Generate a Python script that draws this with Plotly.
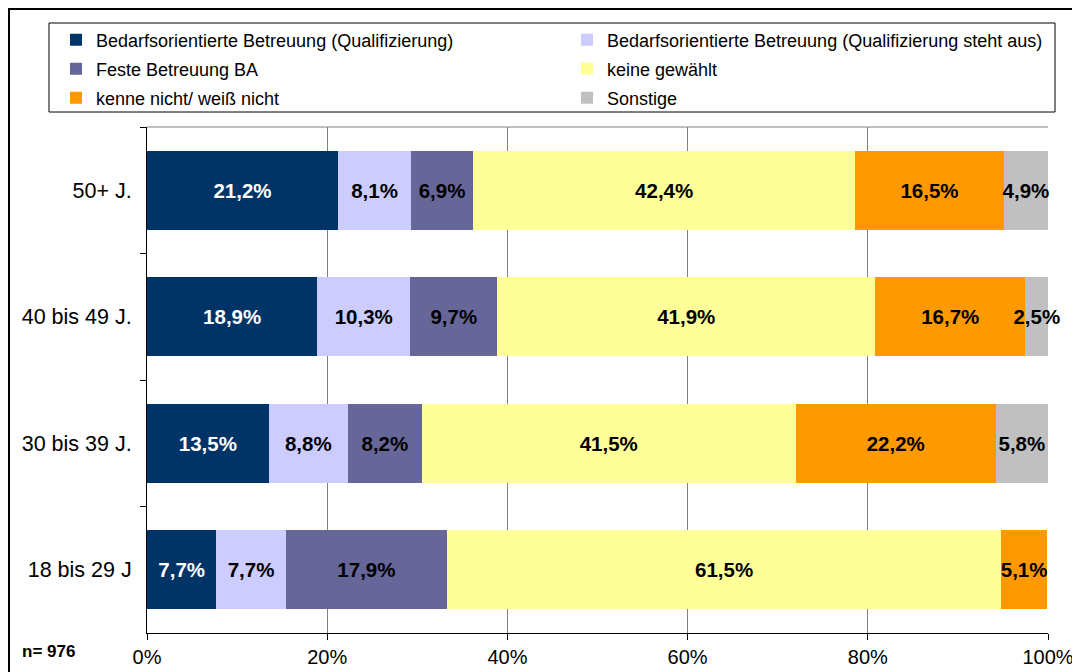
import plotly.graph_objects as go

categories = ["50+ J.", "40 bis 49 J.", "30 bis 39 J.", "18 bis 29 J"]
series_names = [
    "Bedarfsorientierte Betreuung (Qualifizierung)",
    "Bedarfsorientierte Betreuung (Qualifizierung steht aus)",
    "Feste Betreuung BA",
    "keine gewählt",
    "kenne nicht/ weiß nicht",
    "Sonstige",
]
qualifizierung = [21.2, 18.9, 13.5, 7.7]
steht_aus = [8.1, 10.3, 8.8, 7.7]
feste_ba = [6.9, 9.7, 8.2, 17.9]
keine = [42.4, 41.9, 41.5, 61.5]
kenne_nicht = [16.5, 16.7, 22.2, 5.1]
sonstige = [4.9, 2.5, 5.8, 0.0]
series_values = [qualifizierung, steht_aus, feste_ba, keine, kenne_nicht, sonstige]
x_tick_vals = [0, 20, 40, 60, 80, 100]
x_tick_text = ["0%", "20%", "40%", "60%", "80%", "100%"]
sample_note = "n= 976"

colors = ["#003366", "#CCCCFF", "#666699", "#FFFF99", "#FF9900", "#C0C0C0"]
text_colors = ["white", "black", "black", "black", "black", "black"]
legend_ids = ["legend", "legend", "legend2", "legend2", "legend3", "legend3"]

FONT = "Arial, Liberation Sans, sans-serif"
# the page places the figure 8px from the top-left corner of the window
OFF = 8
W, H = 1080 - OFF, 672 - OFF
L = 147 - OFF
R = W - (1048 - OFF)
T = 127 - OFF
B = H - (633 - OFF)
PW, PH = W - L - R, H - T - B


def px(xp):
    """page x pixel -> paper coordinate"""
    return (xp - OFF - L) / PW


def py(yp):
    """page y pixel -> paper coordinate"""
    return (H - B - (yp - OFF)) / PH


def fmt(v):
    return ("%.1f%%" % v).replace(".", ",") if v > 0 else ""


fig = go.Figure()
for name, vals, col, tcol, lg in zip(series_names, series_values, colors, text_colors, legend_ids):
    fig.add_trace(go.Bar(
        name=name, y=categories, x=vals, orientation="h",
        marker=dict(color=col, line=dict(width=0)),
        text=[fmt(v) for v in vals], textposition="inside",
        insidetextanchor="middle", constraintext="none", textangle=0,
        insidetextfont=dict(family=FONT, size=20.5, color=tcol, weight="bold"),
        cliponaxis=False, legend=lg, hoverinfo="skip",
    ))

legend_common = dict(
    orientation="h", xanchor="left", yanchor="middle", entrywidth=466,
    entrywidthmode="pixels", bgcolor="rgba(0,0,0,0)", borderwidth=0,
    font=dict(family=FONT, size=18, color="black"), xref="paper", yref="paper",
    itemclick=False, itemdoubleclick=False, traceorder="normal",
)
lx = px(56)
fig.update_layout(
    width=W, height=H, barmode="stack", bargap=0.375,
    margin=dict(l=L, r=R, t=T, b=B, autoexpand=False),
    paper_bgcolor="white", plot_bgcolor="white",
    font=dict(family=FONT, color="black"),
    legend=dict(x=lx, y=py(40), **legend_common),
    legend2=dict(x=lx, y=py(69), **legend_common),
    legend3=dict(x=lx, y=py(98), **legend_common),
    xaxis=dict(
        range=[0, 100], tickvals=x_tick_vals, ticktext=x_tick_text,
        showgrid=True, gridcolor="#808080", gridwidth=1, zeroline=False,
        showline=True, linecolor="black", linewidth=1,
        ticks="outside", ticklen=6, tickcolor="black",
        tickfont=dict(family=FONT, size=20, color="black"),
    ),
    yaxis=dict(
        type="category", categoryorder="array", categoryarray=categories,
        autorange="reversed", showgrid=False, zeroline=False,
        showline=True, linecolor="black", linewidth=1,
        ticks="outside", ticklen=6, tickcolor="black", tickson="boundaries",
        ticklabelstandoff=10,
        tickfont=dict(family=FONT, size=21.5, color="black"),
    ),
    shapes=[
        dict(type="line", xref="x domain", yref="y domain", x0=0, x1=1, y0=1, y1=1,
             line=dict(color="#808080", width=1)),
        dict(type="rect", xref="paper", yref="paper", x0=px(49), x1=px(1055),
             y0=py(112), y1=py(23), line=dict(color="black", width=1)),
        dict(type="rect", xref="paper", yref="paper", x0=px(9), x1=px(1100),
             y0=py(700), y1=py(9), line=dict(color="black", width=2)),
    ],
    annotations=[
        dict(text=sample_note, xref="paper", yref="paper", x=px(20), y=py(651),
             xanchor="left", yanchor="middle", showarrow=False,
             font=dict(family=FONT, size=17, color="black", weight="bold")),
    ],
)

fig.write_html("out.html")
